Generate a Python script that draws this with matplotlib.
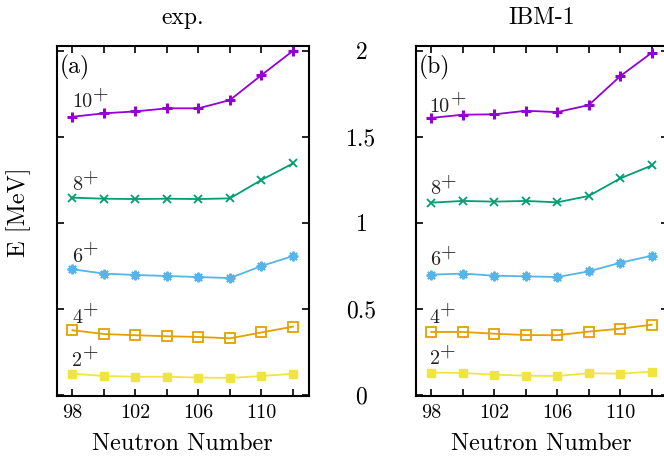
import matplotlib
matplotlib.use("Agg")
import matplotlib.pyplot as plt

plt.rcParams['font.family'] = ['cmr10', 'DejaVu Serif']
plt.rcParams['mathtext.fontset'] = 'cm'
plt.rcParams['axes.formatter.use_mathtext'] = True

# ---------------- data ----------------
neutrons = [98, 100, 102, 104, 106, 108, 110, 112]

exp_2 = [0.124, 0.110, 0.106, 0.106, 0.101, 0.099, 0.110, 0.123]
exp_4 = [0.376, 0.354, 0.347, 0.341, 0.337, 0.329, 0.363, 0.397]
exp_6 = [0.730, 0.705, 0.697, 0.691, 0.685, 0.679, 0.749, 0.807]
exp_8 = [1.146, 1.140, 1.138, 1.140, 1.138, 1.142, 1.249, 1.345]
exp_10 = [1.616, 1.636, 1.647, 1.665, 1.665, 1.713, 1.858, 1.999]

ibm_2 = [0.130, 0.128, 0.118, 0.112, 0.110, 0.126, 0.124, 0.135]
ibm_4 = [0.366, 0.366, 0.356, 0.348, 0.347, 0.368, 0.385, 0.408]
ibm_6 = [0.699, 0.705, 0.693, 0.689, 0.685, 0.718, 0.768, 0.809]
ibm_8 = [1.117, 1.127, 1.123, 1.127, 1.119, 1.156, 1.258, 1.333]
ibm_10 = [1.609, 1.628, 1.630, 1.651, 1.643, 1.684, 1.852, 1.988]

state_labels = ['2', '4', '6', '8', '10']
exp_label_y = [0.170, 0.420, 0.774, 1.190, 1.671]
ibm_label_y = [0.180, 0.420, 0.755, 1.167, 1.645]

x_ticks = [98, 100, 102, 104, 106, 108, 110, 112]
x_ticklabels = ['98', '', '102', '', '106', '', '110', '']
y_ticks = [0, 0.5, 1, 1.5, 2]
y_ticklabels = ['0', '0.5', '1', '1.5', '2']

colors = ['#F0E442', '#E69F00', '#56B4E9', '#009E73', '#9400D3']

# ---------------- figure ----------------
W, H = 664, 459
fig = plt.figure(figsize=(W / 100, H / 100), dpi=100)

def fx(px):
    return px / W

def fy(py):
    return 1 - py / H

axw = fx(308.7 - 56.7)
axh = fy(46) - fy(396)
ax1 = fig.add_axes([fx(56.7), fy(396), axw, axh])
ax2 = fig.add_axes([fx(415.5), fy(396), axw, axh])

def draw_series(ax, x, series):
    y2, y4, y6, y8, y10 = series
    ax.plot(x, y2, color=colors[0], lw=1.3, marker='s', ms=5.5,
            mfc=colors[0], mec=colors[0])
    ax.plot(x, y4, color=colors[1], lw=1.3, marker='s', ms=6.5,
            mfc='none', mec=colors[1], mew=1.3)
    ax.plot(x, y6, color=colors[2], lw=1.3, marker=(8, 2, 0), ms=7,
            mec=colors[2], mew=1.4)
    ax.plot(x, y8, color=colors[3], lw=1.3, marker='x', ms=6,
            mec=colors[3], mew=1.3)
    ax.plot(x, y10, color=colors[4], lw=1.3, marker='+', ms=7.5,
            mec=colors[4], mew=2.2)

draw_series(ax1, neutrons, [exp_2, exp_4, exp_6, exp_8, exp_10])
draw_series(ax2, neutrons, [ibm_2, ibm_4, ibm_6, ibm_8, ibm_10])

for ax, ly, lx in [(ax1, exp_label_y, 98.0), (ax2, ibm_label_y, 97.9)]:
    for lab, yv in zip(state_labels, ly):
        t = ax.text(lx, yv, lab, fontsize=14.5, color='#222222',
                    ha='left', va='baseline')
        ax.annotate('+', xy=(1.0, 0.0), xycoords=t,
                    xytext=(0.5, 8.5), textcoords='offset points',
                    fontsize=14.5, color='#222222', ha='left', va='baseline')

for ax in (ax1, ax2):
    ax.set_xlim(97, 113)
    ax.set_ylim(-0.006, 2.027)
    ax.set_xticks(x_ticks)
    ax.set_xticklabels(x_ticklabels)
    ax.set_yticks(y_ticks)
    ax.tick_params(direction='in', length=5, width=1.2, top=True,
                   bottom=True, left=True, right=True, labelsize=14.5, pad=6)
    ax.tick_params(axis='y', labelleft=False, labelright=False)
    for s in ax.spines.values():
        s.set_linewidth(1.5)
    ax.set_xlabel('Neutron Number', fontsize=17.5, labelpad=8)

ax1.tick_params(axis='y', labelright=True, labelsize=17, pad=38)
ax1.set_yticklabels(y_ticklabels)
for t in ax1.get_yticklabels():
    t.set_horizontalalignment('center')

ax1.set_title('exp.', fontsize=17, pad=16)
ax2.set_title('IBM-1', fontsize=17, pad=16)
ax1.text(97.2, 1.9, '(a)', fontsize=17, va='center', ha='left')
ax2.text(97.2, 1.9, '(b)', fontsize=17, va='center', ha='left')

fig.text(fx(19), fy(212), 'E [MeV]', rotation=90, fontsize=17.5,
         ha='center', va='center')

fig.savefig('out.png', dpi=100)
